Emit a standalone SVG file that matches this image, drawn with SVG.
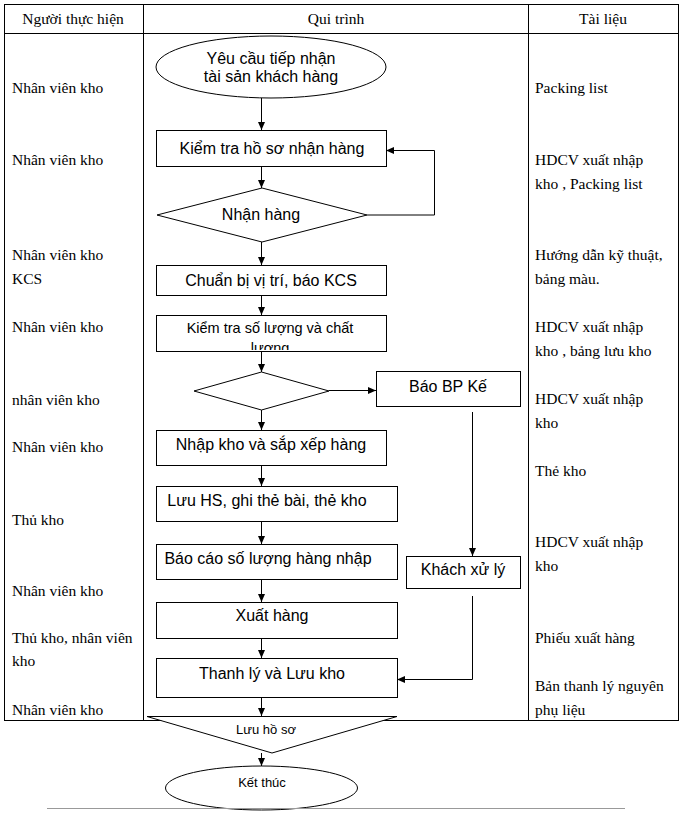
<svg xmlns="http://www.w3.org/2000/svg" width="681" height="817" viewBox="0 0 681 817">
<style>
.tbl{fill:none;stroke:#000;stroke-width:1}
.tt{font-family:"Liberation Serif","Times New Roman",serif;font-size:15.5px;fill:#000}
.fc{font-family:"Liberation Sans",Arial,sans-serif;font-size:16px;fill:#000;text-anchor:middle}
.sm{font-size:13px}
.shape{fill:#fff;stroke:#000;stroke-width:1}
.conn{fill:none;stroke:#000;stroke-width:1}
</style>
<defs>
<marker id="ah" markerUnits="userSpaceOnUse" markerWidth="8" markerHeight="8" refX="8" refY="4" orient="auto">
<path d="M0,0.5 L8,4 L0,7.5 z" fill="#000"/>
</marker>
<clipPath id="clipKT"><rect x="156" y="315" width="230" height="35"/></clipPath>
</defs>
<rect width="681" height="817" fill="#fff"/>
<g id="table">
<rect class="tbl" x="4.5" y="4.5" width="674" height="716"/>
<line class="tbl" x1="143.5" y1="4" x2="143.5" y2="721"/>
<line class="tbl" x1="528.5" y1="4" x2="528.5" y2="721"/>
<line class="tbl" x1="4" y1="33.5" x2="679" y2="33.5"/>
<text class="tt" x="73" y="24" text-anchor="middle">Người thực hiện</text>
<text class="tt" x="336" y="24" text-anchor="middle">Qui trình</text>
<text class="tt" x="603" y="24" text-anchor="middle">Tài liệu</text>
</g>
<g id="col-nguoi">
<text class="tt" x="12" y="93">Nhân viên kho</text>
<text class="tt" x="12" y="165">Nhân viên kho</text>
<text class="tt" x="12" y="260">Nhân viên kho</text>
<text class="tt" x="12" y="284">KCS</text>
<text class="tt" x="12" y="332">Nhân viên kho</text>
<text class="tt" x="12" y="405">nhân viên kho</text>
<text class="tt" x="12" y="452">Nhân viên kho</text>
<text class="tt" x="12" y="525">Thủ kho</text>
<text class="tt" x="12" y="596">Nhân viên kho</text>
<text class="tt" x="12" y="643">Thủ kho, nhân viên</text>
<text class="tt" x="12" y="666">kho</text>
<text class="tt" x="12" y="715">Nhân viên kho</text>
</g>
<g id="col-tailieu">
<text class="tt" x="535" y="93">Packing list</text>
<text class="tt" x="535" y="165">HDCV xuất nhập</text>
<text class="tt" x="535" y="189">kho , Packing list</text>
<text class="tt" x="535" y="260">Hướng dẫn kỹ thuật,</text>
<text class="tt" x="535" y="284">bảng màu.</text>
<text class="tt" x="535" y="332">HDCV xuất nhập</text>
<text class="tt" x="535" y="356">kho , bảng lưu kho</text>
<text class="tt" x="535" y="404">HDCV xuất nhập</text>
<text class="tt" x="535" y="428">kho</text>
<text class="tt" x="535" y="476">Thẻ kho</text>
<text class="tt" x="535" y="547">HDCV xuất nhập</text>
<text class="tt" x="535" y="571">kho</text>
<text class="tt" x="535" y="643">Phiếu xuất hàng</text>
<text class="tt" x="535" y="691">Bản thanh lý nguyên</text>
<text class="tt" x="535" y="715">phụ liệu</text>
</g>
<g id="connectors">
<line class="conn" x1="261.5" y1="98" x2="261.5" y2="130" marker-end="url(#ah)"/>
<line class="conn" x1="261.5" y1="166" x2="261.5" y2="188" marker-end="url(#ah)"/>
<polyline class="conn" points="367,215 434.5,215 434.5,150.5 386,150.5" marker-end="url(#ah)"/>
<line class="conn" x1="261.5" y1="242" x2="261.5" y2="265" marker-end="url(#ah)"/>
<line class="conn" x1="261.5" y1="295" x2="261.5" y2="315" marker-end="url(#ah)"/>
<line class="conn" x1="261.5" y1="352" x2="261.5" y2="372" marker-end="url(#ah)"/>
<line class="conn" x1="329" y1="390.5" x2="376" y2="390.5" marker-end="url(#ah)"/>
<line class="conn" x1="261.5" y1="410" x2="261.5" y2="430" marker-end="url(#ah)"/>
<line class="conn" x1="261.5" y1="465" x2="261.5" y2="486" marker-end="url(#ah)"/>
<line class="conn" x1="261.5" y1="521" x2="261.5" y2="544" marker-end="url(#ah)"/>
<line class="conn" x1="261.5" y1="580" x2="261.5" y2="602" marker-end="url(#ah)"/>
<line class="conn" x1="261.5" y1="638" x2="261.5" y2="658" marker-end="url(#ah)"/>
<line class="conn" x1="472.5" y1="412" x2="472.5" y2="556" marker-end="url(#ah)"/>
<polyline class="conn" points="472.5,596 472.5,679.5 397,679.5" marker-end="url(#ah)"/>
<line class="conn" x1="261.5" y1="697" x2="261.5" y2="716" marker-end="url(#ah)"/>
<line class="conn" x1="261.5" y1="753" x2="261.5" y2="766" marker-end="url(#ah)"/>
</g>
<g id="n-start">
<ellipse class="shape" cx="271" cy="67" rx="115" ry="31"/>
<text class="fc" x="271" y="64">Yêu cầu tiếp nhận</text>
<text class="fc" x="271" y="82">tài sản khách hàng</text>
</g>
<g id="n-kiemtra-hoso">
<rect class="shape" x="156.5" y="130.5" width="230" height="36"/>
<text class="fc" x="272" y="154">Kiểm tra hồ sơ nhận hàng</text>
</g>
<g id="n-nhanhang">
<polygon class="shape" points="157,215 262,188 367,215 262,242"/>
<text class="fc" x="261" y="220">Nhận hàng</text>
</g>
<g id="n-chuanbi">
<rect class="shape" x="156.5" y="265.5" width="230" height="30"/>
<text class="fc" x="271" y="286">Chuẩn bị vị trí, báo KCS</text>
</g>
<g id="n-kiemtra-sl">
<rect class="shape" x="156.5" y="315.5" width="230" height="36"/>
<g clip-path="url(#clipKT)">
<text class="fc" x="270" y="333" style="font-size:14.5px">Kiểm tra số lượng và chất</text>
<text class="fc" x="270" y="352.5" style="font-size:14.5px">lượng</text>
</g>
</g>
<g id="n-quyetdinh">
<polygon class="shape" points="194,391 261.5,372 329,391 261.5,410"/>
</g>
<g id="n-baobp">
<rect class="shape" x="376.5" y="371.5" width="144" height="35"/>
<text class="fc" x="448" y="392">Báo BP Kế</text>
</g>
<g id="n-nhapkho">
<rect class="shape" x="156.5" y="430.5" width="230" height="35"/>
<text class="fc" x="271" y="450">Nhập kho và sắp xếp hàng</text>
</g>
<g id="n-luuhs">
<rect class="shape" x="156.5" y="486.5" width="241" height="35"/>
<text class="fc" x="267" y="506">Lưu HS, ghi thẻ bài, thẻ kho</text>
</g>
<g id="n-baocao">
<rect class="shape" x="156.5" y="544.5" width="241" height="35"/>
<text class="fc" x="268" y="564">Báo cáo số lượng hàng nhập</text>
</g>
<g id="n-khach">
<rect class="shape" x="406.5" y="556.5" width="114" height="32"/>
<text class="fc" x="463" y="575">Khách xử lý</text>
</g>
<g id="n-xuathang">
<rect class="shape" x="156.5" y="602.5" width="241" height="36"/>
<text class="fc" x="272" y="621">Xuất hàng</text>
</g>
<g id="n-thanhly">
<rect class="shape" x="156.5" y="658.5" width="241" height="39"/>
<text class="fc" x="272" y="679">Thanh lý và Lưu kho</text>
</g>
<g id="n-luuhoso">
<polygon class="shape" points="147,716.5 397,716.5 272,753"/>
<text class="fc sm" x="266" y="734">Lưu hồ sơ</text>
</g>
<g id="n-ketthuc">
<ellipse class="shape" cx="261.5" cy="788" rx="96" ry="22"/>
<text class="fc sm" x="262" y="787">Kết thúc</text>
</g>
<line x1="47" y1="808.5" x2="625" y2="808.5" stroke="#999" stroke-width="1"/>
</svg>
